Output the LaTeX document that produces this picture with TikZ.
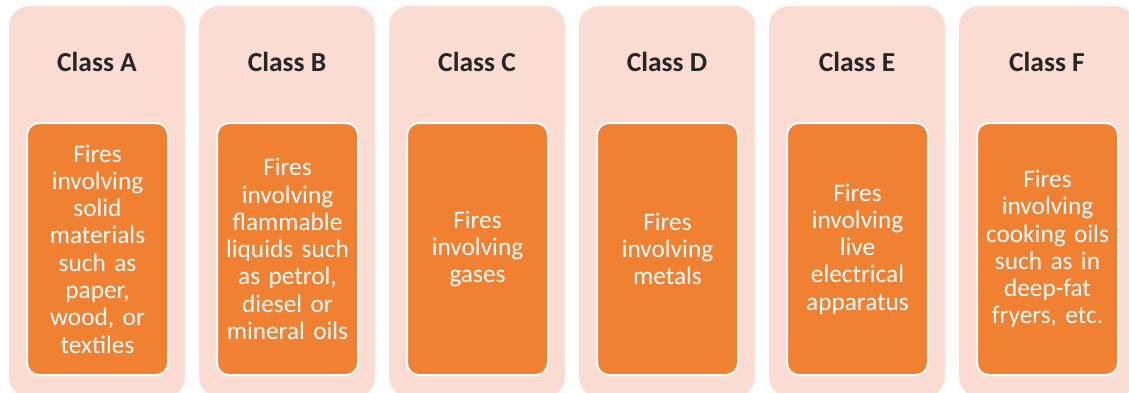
\documentclass[tikz,border=0pt]{standalone}
\usepackage{fontspec}
\setmainfont{Carlito}
\definecolor{panelpink}{RGB}{251,220,211}
\definecolor{fireorange}{RGB}{240,128,50}
\definecolor{titlegray}{RGB}{38,38,38}
\begin{document}
\begin{tikzpicture}[x=1pt,y=-1pt,
  panel/.style={fill=panelpink, draw=none, rounded corners=20pt,
    minimum width=176pt, minimum height=391pt, inner sep=0pt},
  classtitle/.style={anchor=base, text=titlegray,
    font=\fontsize{27.5}{30}\selectfont\bfseries},
  firebox/.style={fill=fireorange, draw=white, line width=2pt,
    rounded corners=12pt, minimum width=141pt, minimum height=252pt,
    text width=138pt, align=center, inner sep=0pt, text=white,
    font=\fontsize{25.3}{27.3}\selectfont}]
\useasboundingbox (0,0) rectangle (1129,392);
\clip (0,0) rectangle (1129,392);
% outer panels
\node[panel] (pA) at (97,201.5) {};
\node[panel] (pB) at (287,201.5) {};
\node[panel] (pC) at (477,201.5) {};
\node[panel] (pD) at (667,201.5) {};
\node[panel] (pE) at (857,201.5) {};
\node[panel] (pF) at (1047,201.5) {};
% class titles
\node[classtitle] (tA) at (97,71.7) {Class A};
\node[classtitle] (tB) at (287,71.7) {Class B};
\node[classtitle] (tC) at (477,71.7) {Class C};
\node[classtitle] (tD) at (667,71.7) {Class D};
\node[classtitle] (tE) at (857,71.7) {Class E};
\node[classtitle] (tF) at (1047,71.7) {Class F};
% descriptions
\node[firebox] (fA) at (97.5,249) {Fires\\involving\\solid\\materials\\such as\\paper,\\wood, or\\textiles};
\node[firebox] (fB) at (287.5,249) {Fires\\involving\\flammable\\liquids such\\as petrol,\\diesel or\\mineral oils};
\node[firebox] (fC) at (477.5,249) {Fires\\involving\\gases};
\node[firebox] (fD) at (667.5,249) {Fires\\involving\\metals};
\node[firebox] (fE) at (857.5,249) {Fires\\involving\\live\\electrical\\apparatus};
\node[firebox] (fF) at (1047.5,249) {Fires\\involving\\cooking oils\\such as in\\deep-fat\\fryers, etc.};
\end{tikzpicture}
\end{document}
